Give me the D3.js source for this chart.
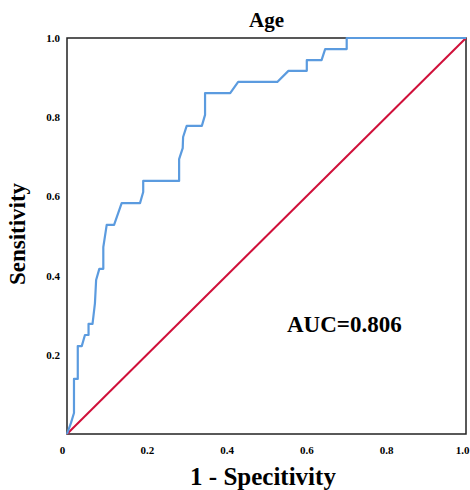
<!DOCTYPE html>
<html>
<head>
<meta charset="utf-8">
<script src="https://cdn.jsdelivr.net/npm/d3@7"></script>
<style>
  body { margin: 0; background: #fff; }
  text { font-family: "Liberation Serif", "Times New Roman", serif; font-weight: bold; fill: #000; }
</style>
</head>
<body>
<svg></svg>
<script>
// ROC curve points
const fpr = [0, 0.010, 0.0175, 0.0175, 0.027, 0.027, 0.037, 0.045, 0.054, 0.054, 0.064, 0.070, 0.073, 0.081, 0.091, 0.091, 0.0995, 0.118, 0.137, 0.183, 0.191, 0.191, 0.281, 0.281, 0.290, 0.291, 0.300, 0.338, 0.346, 0.346, 0.409, 0.429, 0.527, 0.555, 0.601, 0.601, 0.638, 0.647, 0.701, 0.701, 1.0];
const tpr = [0, 0.028, 0.053, 0.139, 0.139, 0.222, 0.222, 0.250, 0.250, 0.278, 0.278, 0.330, 0.389, 0.417, 0.417, 0.472, 0.528, 0.528, 0.583, 0.583, 0.611, 0.639, 0.639, 0.694, 0.722, 0.750, 0.778, 0.778, 0.806, 0.861, 0.861, 0.889, 0.889, 0.917, 0.917, 0.944, 0.944, 0.972, 0.972, 1.0, 1.0];

const xTicks = [0, 0.2, 0.4, 0.6, 0.8, 1.0];
const yTicks = [0.2, 0.4, 0.6, 0.8, 1.0];

const titleText = 'Age';
const xLabel = '1 - Specitivity';
const yLabel = 'Sensitivity';
const aucText = 'AUC=0.806';

const width = 470;
const height = 490;
const margin = { left: 67, right: 4, top: 38, bottom: 56 };

const svg = d3.select('svg')
    .attr('width', width)
    .attr('height', height);

const xScale = d3.scaleLinear()
    .domain([0, 1])
    .range([margin.left, width - margin.right]);

const yScale = d3.scaleLinear()
    .domain([0, 1])
    .range([height - margin.bottom, margin.top]);

// frame
svg.append('rect')
    .attr('x', xScale(0))
    .attr('y', yScale(1))
    .attr('width', xScale(1) - xScale(0))
    .attr('height', yScale(0) - yScale(1))
    .attr('fill', 'none')
    .attr('stroke', '#222')
    .attr('stroke-width', 1.5);

const xAxis = d3.axisBottom(xScale)
    .tickValues(xTicks)
    .tickSize(0)
    .tickPadding(12)
    .tickFormat(d => d === 0 ? '0' : d3.format('.1f')(d));

const yAxis = d3.axisLeft(yScale)
    .tickValues(yTicks)
    .tickSize(0)
    .tickPadding(7)
    .tickFormat(d3.format('.1f'));

const gx = svg.append('g')
    .attr('transform', 'translate(0,' + yScale(0) + ')')
    .call(xAxis);
const gy = svg.append('g')
    .attr('transform', 'translate(' + xScale(0) + ',0)')
    .call(yAxis);

[gx, gy].forEach(g => {
    g.select('.domain').remove();
    g.selectAll('text')
        .attr('font-size', 11)
        .attr('font-family', '"Liberation Serif", serif')
        .attr('font-weight', 'bold')
        .attr('fill', '#000');
});
// the origin label sits a little left of the corner
gx.selectAll('.tick').filter(d => d === 0).select('text').attr('dx', -5);
// keep the last label inside the window
gx.selectAll('.tick').filter(d => d === 1).select('text')
    .attr('text-anchor', 'end')
    .attr('dx', 3);

// reference diagonal
svg.append('line')
    .attr('x1', xScale(0))
    .attr('y1', yScale(0))
    .attr('x2', xScale(1))
    .attr('y2', yScale(1))
    .attr('stroke', '#d0103a')
    .attr('stroke-width', 2);

// ROC curve
const line = d3.line()
    .x(i => xScale(fpr[i]))
    .y(i => yScale(tpr[i]));

svg.append('path')
    .datum(d3.range(fpr.length))
    .attr('d', line)
    .attr('fill', 'none')
    .attr('stroke', '#5b9bdf')
    .attr('stroke-width', 2.2)
    .attr('stroke-linejoin', 'round');

// texts
svg.append('text')
    .attr('x', (xScale(0) + xScale(1)) / 2)
    .attr('y', 27)
    .attr('text-anchor', 'middle')
    .attr('font-size', 21)
    .text(titleText);

svg.append('text')
    .attr('transform', 'translate(25,' + ((yScale(0) + yScale(1)) / 2 - 2) + ') rotate(-90)')
    .attr('text-anchor', 'middle')
    .attr('font-size', 23)
    .text(yLabel);

svg.append('text')
    .attr('x', 263)
    .attr('y', 485)
    .attr('text-anchor', 'middle')
    .attr('font-size', 25)
    .text(xLabel);

svg.append('text')
    .attr('x', 287)
    .attr('y', 332)
    .attr('font-size', 23)
    .text(aucText);
</script>
</body>
</html>
